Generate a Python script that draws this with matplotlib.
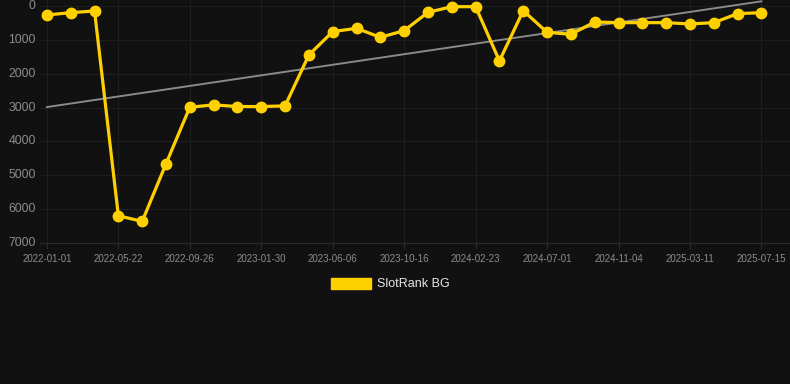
import numpy as np
import matplotlib.pyplot as plt

plt.rcParams['font.family'] = ['Liberation Sans', 'DejaVu Sans']

# rank values, one point per sample (evenly spaced on a category axis)
ranks = [265, 197, 148, 6195, 6362, 4662, 2990, 2920, 2970, 2970,
         2950, 1445, 757, 659, 925, 728, 187, 20, 20, 1622,
         138, 777, 836, 472, 492, 492, 492, 531, 492, 226, 197]
tick_labels = ['2022-01-01', '2022-05-22', '2022-09-26', '2023-01-30',
               '2023-06-06', '2023-10-16', '2024-02-23', '2024-07-01',
               '2024-11-04', '2025-03-11', '2025-07-15']
series_name = 'SlotRank BG'

x = np.arange(len(ranks))
bg = '#111111'
grid_c = '#1e1e1e'
yellow = '#FFD000'

fig = plt.figure(figsize=(7.9, 3.84), dpi=100, facecolor=bg)
ax = fig.add_axes([40 / 790, 1 - 243 / 384, 750 / 790, 243 / 384])
ax.set_facecolor(bg)

# trend line (least squares fit over the series)
k, b0 = np.polyfit(x, ranks, 1)
ax.plot(x, k * x + b0, color='#8a8a8a', lw=1.4, zorder=2)

ax.plot(x, ranks, color=yellow, lw=2.3, marker='o', markersize=7.5,
        markerfacecolor=yellow, markeredgecolor=yellow, zorder=3,
        label=series_name)

ax.set_xlim(-0.29, 31.2)
ax.set_ylim(7000, -177)
ax.set_xticks(x[::3])
ax.set_xticklabels(tick_labels)
ax.set_yticks(range(0, 7001, 1000))
ax.grid(True, color=grid_c, lw=0.8)
for s in ax.spines.values():
    s.set_visible(False)
ax.spines['bottom'].set_visible(True)
ax.spines['bottom'].set_color('#2a2a2a')
ax.tick_params(axis='x', colors='#2a2a2a', labelcolor='#8c8c8c', labelsize=7,
               length=4, pad=4)
ax.tick_params(axis='y', length=0, labelcolor='#8c8c8c', labelsize=8.8, pad=3)
for lbl in ax.get_yticklabels():
    lbl.set_verticalalignment('center')

leg = fig.legend(handles=[plt.Rectangle((0, 0), 1, 1, color=yellow)],
                 labels=[series_name], loc='center', bbox_to_anchor=(0.494, 1 - 284 / 384),
                 frameon=False, handlelength=3.2, handleheight=1.0,
                 handletextpad=0.5, fontsize=9)
for t in leg.get_texts():
    t.set_color('#e6e6e6')

fig.savefig('out.png', dpi=100, facecolor=bg)
